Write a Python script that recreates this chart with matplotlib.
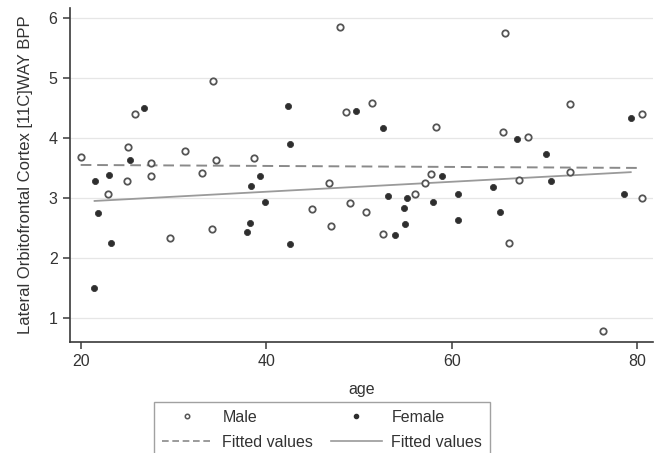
import matplotlib
matplotlib.use("Agg")
import matplotlib.pyplot as plt
from matplotlib.lines import Line2D

plt.rcParams['font.family'] = ['Liberation Sans', 'DejaVu Sans']

# Male (open circles)
male_age = [20.0, 22.9, 25.1, 25.0, 25.9, 27.6, 27.6, 31.3, 33.1, 34.3, 34.6, 38.7,
            48.0, 48.6, 51.4, 58.3, 46.8, 57.8, 57.1, 56.0, 65.7, 72.8, 80.5, 65.5,
            68.2, 72.7, 67.3, 80.5, 29.6, 34.2, 44.9, 47.0, 49.0, 50.8, 52.6, 66.2, 76.3]
male_val = [3.69, 3.07, 3.86, 3.28, 4.41, 3.59, 3.37, 3.78, 3.42, 4.96, 3.63, 3.67,
            5.85, 4.44, 4.59, 4.18, 3.25, 3.40, 3.26, 3.07, 5.76, 4.57, 4.40, 4.10,
            4.02, 3.43, 3.31, 3.00, 2.34, 2.49, 2.82, 2.54, 2.92, 2.77, 2.40, 2.26, 0.79]

# Female (filled dots)
female_age = [21.5, 23.1, 25.3, 26.8, 38.4, 39.3, 42.4, 42.6, 49.7, 52.6, 59.0, 53.1,
              55.2, 67.0, 70.2, 79.3, 70.7, 64.4, 60.7, 78.6, 21.9, 23.3, 21.4, 38.3,
              37.9, 39.9, 42.6, 53.9, 54.9, 55.0, 58.0, 60.7, 65.2]
female_val = [3.28, 3.38, 3.64, 4.50, 3.20, 3.37, 4.53, 3.90, 4.46, 4.17, 3.37, 3.03,
              3.00, 3.99, 3.73, 4.34, 3.29, 3.19, 3.07, 3.07, 2.76, 2.26, 1.50, 2.58,
              2.43, 2.94, 2.23, 2.38, 2.83, 2.57, 2.93, 2.63, 2.77]

# Fitted values (end points of the linear fits)
male_fit_age = [20.0, 80.5]
male_fit_val = [3.555, 3.505]
female_fit_age = [21.5, 79.3]
female_fit_val = [2.955, 3.435]

x_ticks = [20, 40, 60, 80]
y_ticks = [1, 2, 3, 4, 5, 6]

fig = plt.figure(figsize=(6.62, 4.53), dpi=100)
ax = fig.add_axes([70 / 662, 1 - 341.7 / 453, 583 / 662, (341.7 - 8) / 453])

axis_col = '#3a3a3a'
text_col = '#333333'

for y in y_ticks:
    ax.axhline(y, color='#e6e6e6', lw=0.9, zorder=0)

ax.plot(male_fit_age, male_fit_val, color='#8a8a8a', lw=1.4, ls=(0, (5.5, 3.0)), zorder=2)
ax.plot(female_fit_age, female_fit_val, color='#9a9a9a', lw=1.3, ls='-', zorder=2)

ax.plot(male_age, male_val, ls='none', marker='o', ms=4.6, mfc='white', mec='#555555',
        mew=1.3, zorder=3)
ax.plot(female_age, female_val, ls='none', marker='o', ms=4.4, mfc='#2e2e2e', mec='#3a3a3a',
        mew=0.6, zorder=3)

ax.set_xlim(18.85, 81.7)
ax.set_ylim(0.61, 6.17)
ax.set_xticks(x_ticks)
ax.set_yticks(y_ticks)

for s in ['top', 'right']:
    ax.spines[s].set_visible(False)
for s in ['left', 'bottom']:
    ax.spines[s].set_color(axis_col)
    ax.spines[s].set_linewidth(1.2)

ax.tick_params(axis='both', direction='out', length=5, width=1.1, color=axis_col,
               labelsize=11.5, labelcolor=text_col, pad=4)

ax.set_xlabel('age', fontsize=11.5, color=text_col, labelpad=9)
ax.set_ylabel('Lateral Orbitofrontal Cortex [11C]WAY BPP', fontsize=12, color=text_col,
              labelpad=11)

handles = [
    Line2D([], [], ls='none', marker='o', ms=3.2, mfc='white', mec='#555555', mew=1.1),
    Line2D([], [], color='#8a8a8a', lw=1.2, ls=(0, (4.0, 2.2))),
    Line2D([], [], ls='none', marker='o', ms=3.0, mfc='#2e2e2e', mec='#2e2e2e'),
    Line2D([], [], color='#9a9a9a', lw=1.2, ls='-'),
]
labels = ['Male', 'Fitted values', 'Female', 'Fitted values']
leg = fig.legend(handles, labels, ncol=2, loc='upper center',
                 bbox_to_anchor=(322 / 662, 1 - 402 / 453), borderaxespad=0.0,
                 frameon=True, fancybox=False,
                 edgecolor='#8a8a8a', fontsize=11.5, handlelength=3.2, handletextpad=0.6,
                 columnspacing=1.1, labelspacing=0.62, borderpad=0.5)
for t in leg.get_texts():
    t.set_color(text_col)
leg.get_frame().set_linewidth(1.0)

fig.savefig('out.png', dpi=100)
